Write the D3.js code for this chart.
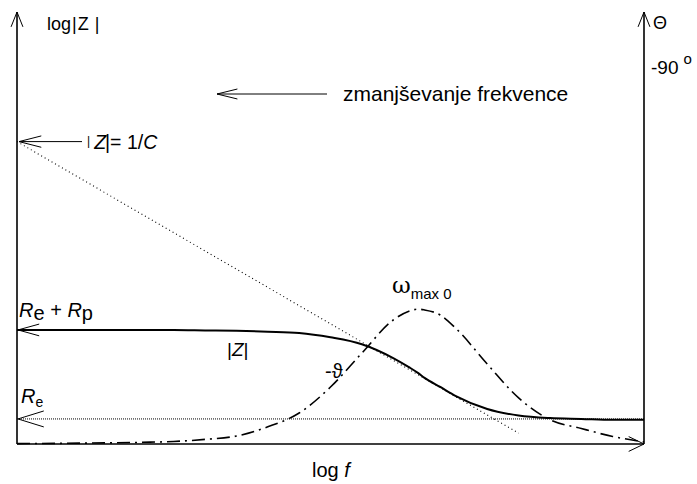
<!DOCTYPE html>
<html>
<head>
<meta charset="utf-8">
<script src="https://cdn.jsdelivr.net/npm/d3@7"></script>
<style>
  body { margin: 0; background: #fff; }
  text { font-family: "Liberation Sans", Arial, sans-serif; fill: #000; }
</style>
</head>
<body>
<div id="chart"></div>
<script>
const width = 697;
const height = 484;

// log f in arbitrary units (0..100)
const logF = [0, 10, 20, 25, 30, 35, 40, 45, 50, 55, 60, 62.5, 64, 65, 67.5, 70, 75, 80, 85, 90, 95, 100];
// log|Z| (arbitrary units)
const logZ = [26.4, 26.4, 26.4, 26.4, 26.3, 26.2, 26.0, 25.7, 24.7, 23.1, 19.9, 17.8, 16.4, 15.3, 13.2, 11.1, 8.1, 6.6, 6.0, 5.8, 5.6, 5.6];
// -theta in degrees
const phase = [0.1, 0.2, 0.4, 0.6, 1.1, 1.9, 4.1, 7.4, 13.6, 21.7, 29.6, 31.7, 32.2, 32.0, 30.8, 27.6, 19.1, 11.0, 5.8, 3.7, 1.8, 0.5];
// asymptote |Z| = 1/C
const asymF = [0, 80];
const asymZ = [70, 2.5];
const levelRe = 5.8;
const levelReRp = 26.4;

const svg = d3.select("#chart").append("svg")
  .attr("width", width)
  .attr("height", height);

const x = d3.scaleLinear().domain([0, 100]).range([17, 644]);
const y = d3.scaleLinear().domain([0, 100]).range([444, 12]);
const yPhase = d3.scaleLinear().domain([0, 90]).range([444, 67]);

const zData = logF.map((f, i) => [f, logZ[i]]);
const pData = logF.map((f, i) => [f, phase[i]]);

// open arrow head, tip at (tx,ty), pointing along ang
function arrowHead(g, tx, ty, ang, len, spread) {
  const a1 = ang + Math.PI - spread, a2 = ang + Math.PI + spread;
  g.append("path")
    .attr("d", `M${tx + len * Math.cos(a1)},${ty + len * Math.sin(a1)}L${tx},${ty}L${tx + len * Math.cos(a2)},${ty + len * Math.sin(a2)}`)
    .attr("fill", "none").attr("stroke", "#000").attr("stroke-width", 1);
}

// axes
const axes = svg.append("g");
axes.append("line").attr("x1", x(0)).attr("y1", y(0)).attr("x2", x(0)).attr("y2", 12)
  .attr("stroke", "#000").attr("stroke-width", 1.6);
axes.append("line").attr("x1", x(100)).attr("y1", y(0)).attr("x2", x(100)).attr("y2", 12)
  .attr("stroke", "#000").attr("stroke-width", 1.6);
axes.append("line").attr("x1", x(0)).attr("y1", y(0)).attr("x2", x(100)).attr("y2", y(0))
  .attr("stroke", "#000").attr("stroke-width", 1.6);
arrowHead(axes, x(0), 12, -Math.PI / 2, 16, 0.38);
arrowHead(axes, x(100), 12, -Math.PI / 2, 16, 0.38);
arrowHead(axes, x(100), y(0), 0, 17, 0.45);

// Re level (dotted)
svg.append("line")
  .attr("x1", x(0)).attr("x2", x(100))
  .attr("y1", y(levelRe)).attr("y2", y(levelRe))
  .attr("stroke", "#000").attr("stroke-width", 1)
  .attr("stroke-dasharray", "1,1");

// asymptote 1/C (dotted)
svg.append("line")
  .attr("x1", x(asymF[0])).attr("y1", y(asymZ[0]))
  .attr("x2", x(asymF[1])).attr("y2", y(asymZ[1]))
  .attr("stroke", "#000").attr("stroke-width", 1.1)
  .attr("stroke-dasharray", "1,3");

// |Z| curve
svg.append("path")
  .datum(zData)
  .attr("fill", "none").attr("stroke", "#000").attr("stroke-width", 2)
  .attr("d", d3.line().x(d => x(d[0])).y(d => y(d[1])).curve(d3.curveMonotoneX));

// phase curve (dash-dot)
svg.append("path")
  .datum(pData)
  .attr("fill", "none").attr("stroke", "#000").attr("stroke-width", 1.6)
  .attr("stroke-dasharray", "13,5,2,5")
  .attr("d", d3.line().x(d => x(d[0])).y(d => yPhase(d[1])).curve(d3.curveMonotoneX));

// pointer arrows on the left axis
const ptr = svg.append("g");
arrowHead(ptr, x(0) + 1, y(levelReRp), Math.PI, 22, 0.27);
arrowHead(ptr, x(0) + 1, y(levelRe), Math.PI, 27, 0.3);
ptr.append("line").attr("x1", x(0) + 2).attr("x2", 82).attr("y1", y(asymZ[0])).attr("y2", y(asymZ[0]))
  .attr("stroke", "#000").attr("stroke-width", 1);
arrowHead(ptr, x(0) + 2, y(asymZ[0]), Math.PI, 23, 0.25);

// frequency direction arrow
ptr.append("line").attr("x1", 217).attr("x2", 327).attr("y1", 94).attr("y2", 94)
  .attr("stroke", "#000").attr("stroke-width", 1);
arrowHead(ptr, 217, 94, Math.PI, 21, 0.24);

// labels
const lab = svg.append("g");
const t1 = lab.append("text").attr("x", 47).attr("y", 30).style("font-size", "18px");
t1.append("tspan").text("log");
t1.append("tspan").text("|").attr("dx", 1);
t1.append("tspan").text("Z").attr("dx", 1);
t1.append("tspan").text("|").attr("dx", 6);

lab.append("text").attr("x", 653).attr("y", 29).style("font-size", "18px").text("Θ");
const t90 = lab.append("text").attr("x", 651).attr("y", 74).style("font-size", "19px");
t90.append("tspan").text("-90");
t90.append("tspan").text("o").attr("dx", 5).attr("dy", -10).style("font-size", "15px");

lab.append("text").attr("x", 343).attr("y", 101).style("font-size", "21px").text("zmanjševanje frekvence");

const tc = lab.append("text").attr("x", 87).attr("y", 149).style("font-size", "19.5px");
tc.append("tspan").text("|").style("font-size", "12px").attr("dy", -4);
tc.append("tspan").text("Z").style("font-style", "italic").attr("dx", 4).attr("dy", 4);
tc.append("tspan").text("|= 1/").attr("dx", -1);
tc.append("tspan").text("C").style("font-style", "italic");

const tr = lab.append("text").attr("x", 19).attr("y", 317).style("font-size", "20px");
tr.append("tspan").text("R").style("font-style", "italic");
tr.append("tspan").text("e").attr("dy", 3);
tr.append("tspan").text(" + ").attr("dy", -3);
tr.append("tspan").text("R").style("font-style", "italic");
tr.append("tspan").text("p").attr("dy", 3);

const tz = lab.append("text").attr("x", 227).attr("y", 356).style("font-size", "19px");
tz.append("tspan").text("|");
tz.append("tspan").text("Z").style("font-style", "italic");
tz.append("tspan").text("|");

lab.append("text").attr("x", 325).attr("y", 378).style("font-size", "20px").text("-ϑ");

const te = lab.append("text").attr("x", 21).attr("y", 403).style("font-size", "20px");
te.append("tspan").text("R").style("font-style", "italic");
te.append("tspan").text("e").attr("dy", 4).style("font-size", "14px");

const tw = lab.append("text").attr("x", 392).attr("y", 293);
tw.append("tspan").text("ω").style("font-size", "23px").style("font-family", "'DejaVu Serif', 'Liberation Serif', serif");
tw.append("tspan").text("max 0").attr("dy", 6).style("font-size", "15px");

const tf = lab.append("text").attr("x", 312).attr("y", 477).style("font-size", "20px");
tf.append("tspan").text("log ");
tf.append("tspan").text("f").style("font-style", "italic");
</script>
</body>
</html>
